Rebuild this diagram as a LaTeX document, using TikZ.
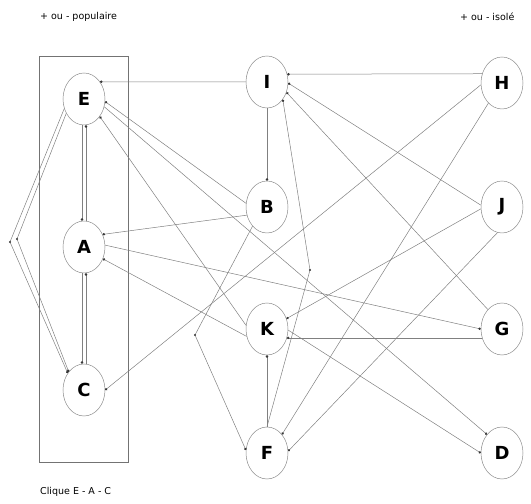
\documentclass[tikz,border=0pt]{standalone}
\usepackage{fontspec}
\setmainfont{DejaVu Sans}
\usetikzlibrary{arrows.meta,shapes.geometric}
\tikzset{
 vtx/.style={ellipse, draw=black!45, line width=0.5pt, minimum width=42pt, minimum height=52pt, inner sep=0pt, font=\fontsize{18}{21}\selectfont\bfseries},
 edge/.style={draw=black!50, line width=0.5pt, -{Circle[length=2.4pt,color=black!80]}},
 frame/.style={draw=black!55, line width=0.6pt},
 lbl/.style={font=\fontsize{9.5}{11}\selectfont, anchor=west, inner sep=0pt},
 benddot/.style={fill=black!80},
}
\begin{document}
\begin{tikzpicture}[x=1pt,y=1pt]
\useasboundingbox (0,0) rectangle (531,504);
% clique box
\draw[frame] (39,448) rectangle (128,42);
% labels
\node[lbl] (lpop) at (40,487) {+ ou - populaire};
\node[lbl] (liso) at (460,487) {+ ou - isolé};
\node[lbl] (lcli) at (40,12) {Clique E - A - C};
% nodes
\node[vtx] (E) at (84,405) {E};
\node[vtx] (A) at (84,257) {A};
\node[vtx] (C) at (84,114) {C};
\node[vtx] (I) at (267,422) {I};
\node[vtx] (B) at (267,297) {B};
\node[vtx] (K) at (267,175) {K};
\node[vtx] (F) at (267,51) {F};
\node[vtx] (H) at (502,421) {H};
\node[vtx] (J) at (502,297) {J};
\node[vtx] (G) at (502,175) {G};
\node[vtx] (D) at (502,51) {D};
% bend points
\coordinate (bL1) at (10,262);
\coordinate (bL2) at (17,265);
\coordinate (bB) at (195,169);
\coordinate (bF) at (310,234);
% edges
\draw[edge] (I.180) -- (E.47);
\draw[edge] (H.155) -- (I.21);
\draw[edge] (I.south) -- (B.north);
\draw[edge] (J.175) -- (I.-3);
\draw[edge] (G.126) -- (I.-28);
\draw[edge] (F.north) -- (bF) -- (I.-48);
\draw[edge] (H.185) -- (C.0);
\draw[edge] (H.236) -- (F.51);
\draw[edge] (J.185) -- (K.28);
\draw[edge] (J.260) -- (F.5);
\draw[edge] (G.204) -- (K.-24);
\draw[edge] (A.5) -- (G.180);
\draw[edge] (E.-21) -- (D.129);
\draw[edge] (K.-3) -- (D.180);
\draw[edge] (B.170) -- (E.-7);
\draw[edge] (B.202) -- (A.34);
\draw[edge] (B.233) -- (bB) -- (F.172);
\draw[edge] (K.170) -- (E.-48);
\draw[edge] (K.200) -- (A.-32);
\draw[edge] (F.north) -- (K.south);
\draw[edge] ([xshift=-2pt]E.south) -- ([xshift=-2pt]A.north);
\draw[edge] ([xshift=2pt]A.north) -- ([xshift=2pt]E.south);
\draw[edge] ([xshift=-2pt]A.south) -- ([xshift=-2pt]C.north);
\draw[edge] ([xshift=2pt]C.north) -- ([xshift=2pt]A.south);
\draw[edge] (E.206) -- (bL1) -- (C.134);
\draw[edge] (E.219) -- (bL2) -- (C.130);
% bend markers
\fill[benddot] (bL1) circle (1.2pt);
\fill[benddot] (bL2) circle (1.2pt);
\fill[benddot] (bB) circle (1.2pt);
\fill[benddot] (bF) circle (1.2pt);
\end{tikzpicture}
\end{document}
